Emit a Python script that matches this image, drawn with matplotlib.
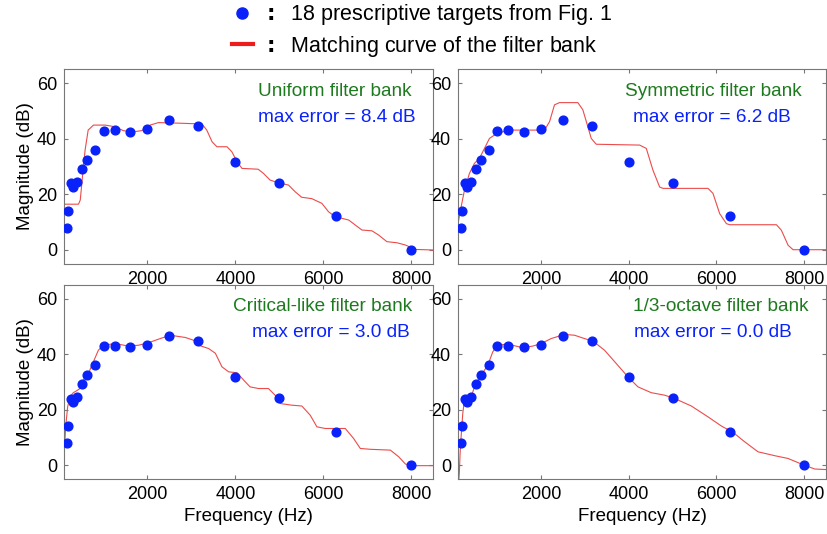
import matplotlib

matplotlib.use("Agg")
import matplotlib.pyplot as plt
from matplotlib.lines import Line2D

plt.rcParams["font.family"] = ["Liberation Sans", "DejaVu Sans"]

# 18 prescriptive targets
target_freq = [160, 200, 250, 315, 400, 500, 630, 800, 1000, 1250, 1600, 2000,
               2500, 3150, 4000, 5000, 6300, 8000]
target_db = [7.9, 14.1, 23.9, 22.7, 24.5, 29.2, 32.4, 35.9, 42.9, 43.0, 42.4, 43.4,
             46.7, 44.6, 31.6, 24.1, 12.0, 0.0]

# matching curves
uniform_f = [100, 430, 470, 520, 580, 650, 770, 1040, 1260, 1450, 1680, 1870, 2060,
             2250, 2700, 3240, 3350, 3470, 3580, 3810, 3920, 4040, 4150, 4520, 4640,
             4790, 4980, 5210, 5360, 5510, 5740, 5970, 6120, 6270, 6580, 6730, 6880,
             7110, 7260, 7450, 7680, 7870, 8100, 8500]
uniform_db = [16.4, 16.4, 17.9, 26.3, 35.9, 43.1, 44.9, 44.9, 44.3, 42.9, 42.5, 42.9,
              44.9, 45.8, 45.6, 45.3, 43.1, 38.9, 37.1, 37.1, 35.3, 31.7, 29.3, 29.0,
              27.5, 25.1, 24.1, 23.3, 20.9, 18.9, 18.4, 16.7, 13.7, 11.9, 10.7, 8.9,
              7.1, 6.8, 5.3, 2.9, 2.5, 1.7, 0.1, -0.1]

symmetric_f = [100, 171, 247, 361, 475, 589, 704, 818, 932, 1122, 1313, 2074, 2189,
               2303, 2417, 2836, 2950, 3064, 3141, 3256, 4245, 4398, 4549, 4702, 4778,
               5806, 5920, 6073, 6226, 6302, 7368, 7482, 7635, 7748, 8500]
symmetric_db = [9.4, 15.4, 21.4, 27.5, 31.1, 32.9, 36.5, 40.1, 41.3, 42.5, 43.1, 43.1,
                46.1, 52.2, 53.0, 53.0, 50.4, 44.3, 40.1, 38.0, 37.7, 36.5, 28.7, 22.6,
                22.1, 22.1, 20.3, 13.0, 9.4, 9.0, 9.0, 7.0, 1.6, 0.0, 0.0]

critical_f = [100, 107, 137, 183, 235, 312, 388, 464, 540, 654, 768, 882, 996, 1263,
              1566, 1795, 2023, 2290, 2518, 2860, 3050, 3164, 3393, 3545, 3696, 3849,
              4038, 4191, 4335, 4525, 4753, 4905, 5019, 5286, 5514, 5704, 5857, 6046,
              6503, 6692, 6845, 7073, 7530, 7719, 7871, 8024, 8500]
critical_db = [1.0, 4.2, 13.8, 21.0, 24.6, 26.1, 26.8, 27.6, 30.6, 33.0, 37.2, 41.4,
               43.2, 43.8, 42.9, 43.2, 44.1, 45.6, 46.8, 46.0, 45.0, 43.2, 42.0, 40.3,
               35.4, 33.6, 33.3, 30.6, 28.2, 27.6, 27.6, 25.2, 22.2, 21.6, 21.3, 18.0,
               13.8, 13.2, 13.2, 9.6, 6.0, 5.7, 5.4, 3.0, 0.4, -0.2, -0.2]

octave_f = [100, 130, 148, 171, 209, 247, 323, 399, 491, 628, 780, 894, 993, 1236,
            1579, 1807, 1998, 2227, 2531, 2760, 2988, 3179, 3445, 3713, 3979, 4207,
            4512, 4817, 5045, 5426, 5806, 6111, 6378, 6644, 6948, 7329, 7633, 7999,
            8243, 8500]
octave_db = [-9.0, -3.0, 4.2, 10.2, 18.6, 23.4, 23.4, 24.6, 28.8, 32.4, 36.0, 40.8,
             43.2, 43.6, 42.3, 42.9, 43.8, 45.6, 47.1, 46.8, 45.6, 44.7, 41.4, 36.6,
             31.8, 28.2, 26.1, 25.2, 24.0, 21.3, 17.4, 14.1, 11.8, 8.4, 4.8, 3.4,
             2.4, 0.0, -1.4, -1.6]

panel_names = ["Uniform filter bank", "Symmetric filter bank",
               "Critical-like filter bank", "1/3-octave filter bank"]
max_errors = [8.4, 6.2, 3.0, 0.0]
curves = [(uniform_f, uniform_db), (symmetric_f, symmetric_db),
          (critical_f, critical_db), (octave_f, octave_db)]
name_x = [6270, 5920, 5980, 6100]
err_x = [6300, 5900, 6180, 5910]

dot_color = "#0a22fa"
curve_color = "#ec4b4b"

fig = plt.figure(figsize=(8.27, 5.34), dpi=100)
positions = [
    [0.0774, 0.5064, 0.4462, 0.3638],
    [0.5538, 0.5064, 0.4450, 0.3638],
    [0.0774, 0.1030, 0.4462, 0.3638],
    [0.5538, 0.1030, 0.4450, 0.3638],
]

for i, pos in enumerate(positions):
    ax = fig.add_axes(pos)
    f, db = curves[i]
    ax.plot(f, db, color=curve_color, lw=0.8, zorder=2)
    ax.plot(target_freq, target_db, "o", color=dot_color, ms=6.3, mec=dot_color, zorder=3)
    ax.set_xlim(100, 8500)
    ax.set_ylim(-5, 65)
    ax.set_xticks([2000, 4000, 6000, 8000])
    ax.set_yticks([0, 20, 40, 60])
    ax.tick_params(direction="in", length=3, labelsize=13, color="#777777",
                   right=True, top=True, pad=5)
    for sp in ax.spines.values():
        sp.set_color("#777777")
        sp.set_linewidth(0.8)
    ax.text(name_x[i], 57, panel_names[i], color="#1e7a1e", fontsize=13.7,
            ha="center", va="center")
    ax.text(err_x[i], 47.8, f"max error = {max_errors[i]:.1f} dB", color=dot_color,
            fontsize=13.7, ha="center", va="center")
    if i % 2 == 0:
        ax.set_ylabel("Magnitude (dB)", fontsize=13.5, labelpad=2)
    if i >= 2:
        ax.set_xlabel("Frequency (Hz)", fontsize=13.5, labelpad=4)

handles = [
    Line2D([], [], ls="none", marker="o", ms=8, color=dot_color),
    Line2D([], [], color="#ee1c1c", lw=3),
]
labels = [r"$\mathbf{:}$  18 prescriptive targets from Fig. 1",
          r"$\mathbf{:}$  Matching curve of the filter bank"]
fig.legend(handles, labels, loc="upper center", bbox_to_anchor=(0.51, 1.032),
           frameon=False, fontsize=15.5, handlelength=1.0, handletextpad=0.4,
           labelspacing=0.3)

fig.savefig("out.png", dpi=100)
